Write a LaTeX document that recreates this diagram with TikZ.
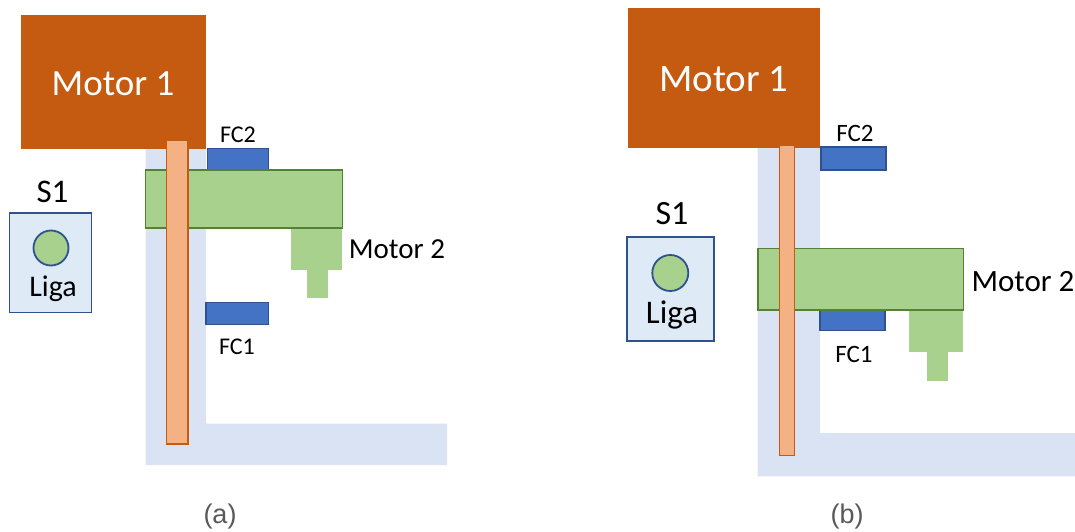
\documentclass[tikz,border=0pt]{standalone}
\usepackage{fontspec}
\setmainfont{Carlito}
\newfontfamily\capfont{Liberation Sans}
\usetikzlibrary{positioning}
\definecolor{motorbrown}{HTML}{C55A11}
\definecolor{guideblue}{HTML}{DAE3F3}
\definecolor{rodorange}{HTML}{F4B183}
\definecolor{fcblue}{HTML}{4472C4}
\definecolor{fcedge}{HTML}{2F528F}
\definecolor{armgreen}{HTML}{A9D18E}
\definecolor{armedge}{HTML}{548235}
\definecolor{panelblue}{HTML}{DEEAF6}
\definecolor{capgray}{HTML}{595959}
\tikzset{
  motorbox/.style={fill=motorbrown},
  guidebar/.style={fill=guideblue},
  rodbar/.style={fill=rodorange, draw=motorbrown, line width=1.3pt},
  fcbox/.style={fill=fcblue, draw=fcedge, line width=1.8pt},
  armbox/.style={fill=armgreen, draw=armedge, line width=1.5pt},
  bodybox/.style={fill=armgreen},
  panelbox/.style={fill=panelblue, draw=fcedge, line width=1.8pt},
  lamp/.style={fill=armgreen, draw=fcedge, line width=1.8pt},
  motorlabel/.style={font=\fontsize{#1}{#1}\selectfont, text=white, inner sep=0pt},
  sidelabel/.style={font=\fontsize{#1}{#1}\selectfont, inner sep=0pt},
  caplabel/.style={font=\capfont\fontsize{27}{27}\selectfont, text=capgray, inner sep=0pt},
}
\begin{document}
\begin{tikzpicture}[x=1pt, y=-1pt]
  \useasboundingbox (0,0) rectangle (1075,532);
  % panel (a)
  \fill[guidebar] (145.5,146) -- (206,146) -- (206,423.5) -- (447,423.5) -- (447,465) -- (145.5,465) -- cycle;
  \fill[motorbox] (20.7,15.3) rectangle (206,148.6);
  \draw[fcbox] (207.5,148.5) rectangle (268.5,170);
  \draw[fcbox] (206,302.5) rectangle (268.5,324.5);
  \fill[bodybox] (291,228) rectangle (342.3,269.8);
  \fill[bodybox] (306.7,269.8) rectangle (328,298);
  \draw[armbox] (145.5,170) rectangle (342.5,228);
  \draw[rodbar] (166.8,140.8) rectangle (188,444);
  \draw[panelbox] (9.5,213) rectangle (91.5,312.5);
  \draw[lamp] (51,248) circle (17.5);
  \node[motorlabel=37] (motoronea) at (113,84) {Motor 1};
  \node[sidelabel=24] (fctwoa) at (238,135) {FC2};
  \node[sidelabel=24] (fconea) at (237,347) {FC1};
  \node[sidelabel=29] (motortwoa) at (397,249) {Motor 2};
  \node[sidelabel=33] (sonea) at (52.5,192) {S1};
  \node[sidelabel=30] (ligaa) at (53,289) {Liga};
  \node[caplabel] (capa) at (220,517) {(a)};
  % panel (b)
  \fill[guidebar] (757.7,147) -- (820,147) -- (820,433) -- (1075,433) -- (1075,476.4) -- (757.7,476.4) -- cycle;
  \fill[motorbox] (627.7,8.5) rectangle (820,147.6);
  \draw[fcbox] (820.8,147) rectangle (885.8,170);
  \draw[fcbox] (820,310) rectangle (885,330.5);
  \fill[bodybox] (909,310) rectangle (963,351.5);
  \fill[bodybox] (926.7,351.5) rectangle (948.3,381.4);
  \draw[armbox] (758,248.7) rectangle (963.3,310);
  \draw[rodbar] (779.3,145.2) rectangle (794.8,455.4);
  \draw[panelbox] (627.3,237.2) rectangle (714,340.7);
  \draw[lamp] (670.3,273) circle (18);
  \node[motorlabel=39] (motoroneb) at (724,79) {Motor 1};
  \node[sidelabel=25] (fctwob) at (855,133) {FC2};
  \node[sidelabel=25] (fconeb) at (854,354) {FC1};
  \node[sidelabel=31] (motortwob) at (1023,282) {Motor 2};
  \node[sidelabel=34] (soneb) at (672,214) {S1};
  \node[sidelabel=33] (ligab) at (672,315) {Liga};
  \node[caplabel] (capb) at (847,517) {(b)};
\end{tikzpicture}
\end{document}
